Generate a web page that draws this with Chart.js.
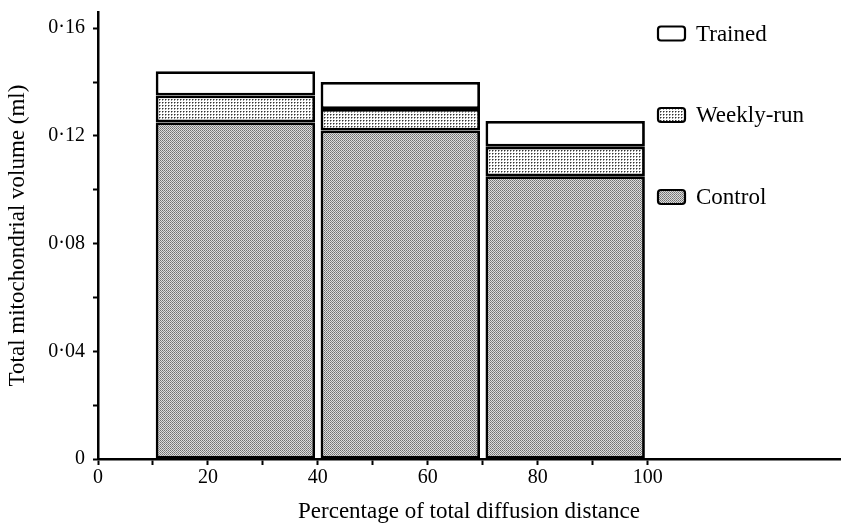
<!DOCTYPE html>
<html>
<head>
<meta charset="utf-8">
<script src="https://cdn.jsdelivr.net/npm/chart.js@4.4.1/dist/chart.umd.min.js"></script>
<style>
  html, body { margin: 0; padding: 0; background: #fff; }
  #wrap { width: 855px; height: 528px; position: relative; }
</style>
</head>
<body>
<div id="wrap"><canvas id="c" width="855" height="528"></canvas></div>
<script>
// ---- data ----
const binStart = [10, 40, 70];
const binEnd   = [40, 70, 100];
const controlValues = [0.125, 0.122, 0.105];
const weeklyExtra   = [0.010, 0.008, 0.011];
const trainedExtra  = [0.009, 0.010, 0.0095];
const seriesNames = ['Control', 'Weekly-run', 'Trained'];
const xTickValues = [0, 10, 20, 30, 40, 50, 60, 70, 80, 90, 100];
const yTickValues = [0, 0.02, 0.04, 0.06, 0.08, 0.10, 0.12, 0.14, 0.16];

// ---- stipple patterns ----
function makePattern(size, fill, dots) {
  const cv = document.createElement('canvas');
  cv.width = size; cv.height = size;
  const g = cv.getContext('2d');
  g.fillStyle = fill; g.fillRect(0, 0, size, size);
  dots.forEach(d => { g.fillStyle = d[2]; g.fillRect(d[0], d[1], 1, 1); });
  return g.createPattern(cv, 'repeat');
}
const ctx = document.getElementById('c').getContext('2d');
const controlFill = makePattern(2, '#dcdcdc', [[0,0,'#707070'],[1,1,'#888888']]);
const weeklyFill  = makePattern(3, '#ffffff', [[0,0,'#333333'],[1,0,'#999999'],[0,1,'#999999']]);
const trainedFill = '#ffffff';
const fills = [controlFill, weeklyFill, trainedFill];

const centers = binStart.map((s, i) => (s + binEnd[i]) / 2);
function pts(arr) { return arr.map((v, i) => ({ x: centers[i], y: v })); }

const FONT = 'Liberation Serif';

const legendPlugin = {
  id: 'sideLegend',
  afterDraw(chart) {
    const c = chart.ctx;
    const ys = [33.5, 115, 197];
    const order = [2, 1, 0];
    c.save();
    order.forEach((di, k) => {
      const ds = chart.data.datasets[di];
      const x = 658, y = ys[k];
      const w = 27, h = 14, r = 3;
      c.beginPath();
      c.roundRect(x, y - h / 2, w, h, r);
      c.fillStyle = ds.backgroundColor;
      c.fill();
      c.lineWidth = 2.2;
      c.strokeStyle = '#000';
      c.stroke();
      c.fillStyle = '#000';
      c.font = '23px "' + FONT + '"';
      c.textBaseline = 'middle';
      c.textAlign = 'left';
      c.fillText(ds.label, 696, y + 1);
    });
    c.restore();
  }
};

new Chart(ctx, {
  type: 'bar',
  data: {
    datasets: [
      { label: seriesNames[0], data: pts(controlValues), backgroundColor: fills[0] },
      { label: seriesNames[1], data: pts(weeklyExtra), backgroundColor: fills[1] },
      { label: seriesNames[2], data: pts(trainedExtra), backgroundColor: fills[2] }
    ].map(d => Object.assign(d, {
      borderColor: '#000', borderWidth: 2.8, borderSkipped: false,
      // bar width relative to the 10-unit tick spacing: 29 units of a 30-unit bin
      barPercentage: 2.9, categoryPercentage: 1.0
    }))
  },
  options: {
    responsive: false,
    animation: false,
    events: [],
    layout: { padding: { left: 0, right: 15, top: 0, bottom: 0 } },
    plugins: { legend: { display: false }, tooltip: { enabled: false } },
    scales: {
      x: {
        type: 'linear', stacked: true, offset: false,
        min: 0, max: 135,
        afterBuildTicks: s => { s.ticks = xTickValues.map(v => ({ value: v })); },
        afterFit: s => { s.height = 69; s.paddingLeft = 0; s.paddingRight = 0; },
        ticks: {
          autoSkip: false, maxRotation: 0, padding: 1,
          color: '#000', font: { family: FONT, size: 20 },
          callback: v => (v % 20 === 0 ? String(v) : '')
        },
        grid: { display: true, drawOnChartArea: false, drawTicks: true, tickLength: 6, tickWidth: 2, color: '#000', offset: false },
        border: { display: true, color: '#000', width: 2.5 },
        title: { display: true, text: 'Percentage of total diffusion distance', color: '#000', font: { family: FONT, size: 23 }, padding: { top: 2, bottom: 2 } }
      },
      y: {
        type: 'linear', stacked: true,
        min: 0, max: 0.166,
        afterBuildTicks: s => { s.ticks = yTickValues.map(v => ({ value: v })); },
        afterFit: s => { s.width = 98; s.paddingTop = 12; s.paddingBottom = 0; },
        ticks: {
          autoSkip: false, padding: 8,
          color: '#000', font: { family: FONT, size: 20 },
          callback: v => {
            const k = Math.round(v * 100);
            if (k % 4 !== 0) return '';
            return k === 0 ? '0' : v.toFixed(2).replace('.', '·');
          }
        },
        grid: { display: true, drawOnChartArea: false, drawTicks: true, tickLength: 5, tickWidth: 2, color: '#000' },
        border: { display: true, color: '#000', width: 2.5 },
        title: { display: true, text: 'Total mitochondrial volume (ml)', color: '#000', font: { family: FONT, size: 23 }, padding: { top: 4, bottom: 4 } }
      }
    }
  },
  plugins: [legendPlugin]
});
</script>
</body>
</html>
